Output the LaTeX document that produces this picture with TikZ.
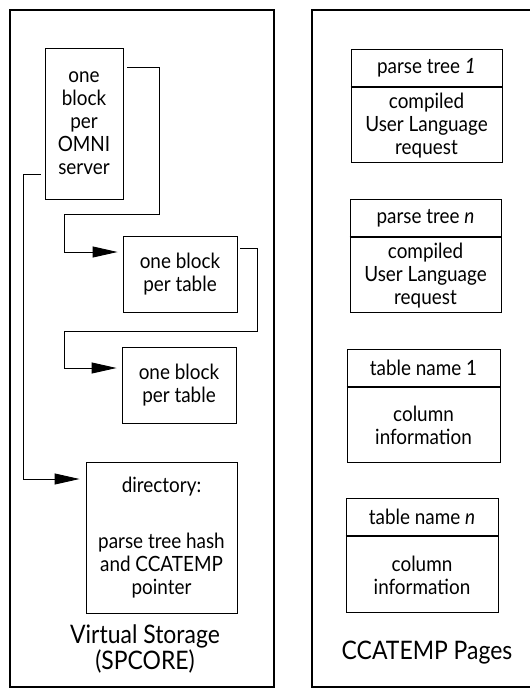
\documentclass[tikz,border=0pt]{standalone}
\usepackage{fontspec}
\setmainfont{Lato}[FakeStretch=0.9]
\usetikzlibrary{arrows.meta,calc}
\begin{document}
\begin{tikzpicture}[x=1pt,y=-1pt,
  frame/.style={line width=2pt},
  blk/.style={draw,line width=0.9pt,inner sep=0pt,align=center,
              font=\fontsize{21}{23}\selectfont},
  head/.style={blk,minimum height=38pt},
  body/.style={blk,minimum height=75pt},
  divider/.style={line width=2pt},
  link/.style={line width=0.9pt},
  tip/.style={-{Triangle[length=25pt,width=11pt]}},
  caption/.style={align=center,inner sep=0pt,font=\fontsize{25.5}{22}\selectfont}]
\useasboundingbox (0,0) rectangle (530,688);

% outer frames
\draw[frame] (10,10) rectangle (274,687);
\draw[frame] (536,10) -- (312,10) -- (312,687) -- (536,687);

% virtual storage blocks
\node[blk,minimum width=78pt,minimum height=151pt] (b1) at (84,123.5)
  {one\\block\\per\\OMNI\\server};
\node[blk,minimum width=114pt,minimum height=76pt] (b2) at (180,274)
  {one block\\per table};
\node[blk,minimum width=114pt,minimum height=76pt] (b3) at (179,385)
  {one block\\per table};
\node[blk,minimum width=151pt,minimum height=151pt] (b4) at (161.5,537.5)
  {directory:\\[33pt]parse tree hash\\and CCATEMP\\pointer};
\node[caption] (vs) at (145,649) {Virtual Storage\\(SPCORE)};

% chaining of the blocks
\draw[link,tip] ([xshift=4pt,yshift=-20pt]b1.north east) -| (159,214) -- (64,214)
  |- ([xshift=-5pt,yshift=22pt]b2.west);
\draw[link,tip] ([xshift=3pt,yshift=26pt]b2.east) -| (257,331) -- (64,331)
  |- ([xshift=-5pt,yshift=17pt]b3.west);
\draw[link,tip] ([xshift=-4pt,yshift=-50.5pt]b1.west) -- (23,174)
  |- ([xshift=-6pt,yshift=58.5pt]b4.west);

% CCATEMP pages
\node[head,minimum width=151pt] (p1h) at (426.5,68) {parse tree \textit{1}};
\node[body,minimum width=151pt,anchor=north] (p1b) at (p1h.south)
  {compiled\\User Language\\request};
\draw[divider] (p1h.south west) -- (p1h.south east);

\node[head,minimum width=151pt] (p2h) at (425.5,218) {parse tree \textit{n}};
\node[body,minimum width=151pt,anchor=north] (p2b) at (p2h.south)
  {compiled\\User Language\\request};
\draw[divider] (p2h.south west) -- (p2h.south east);

\node[head,minimum width=153pt] (t1h) at (423.5,368) {table name 1};
\node[body,minimum width=153pt,anchor=north] (t1b) at (t1h.south)
  {column\\information};
\draw[divider] (t1h.south west) -- (t1h.south east);

\node[head,minimum width=152pt] (t2h) at (422,517) {table name \textit{n}};
\node[body,minimum width=152pt,minimum height=76pt,anchor=north] (t2b) at (t2h.south)
  {column\\information};
\draw[divider] (t2h.south west) -- (t2h.south east);

\node[caption] (cp) at (427,653) {CCATEMP Pages};
\end{tikzpicture}
\end{document}
